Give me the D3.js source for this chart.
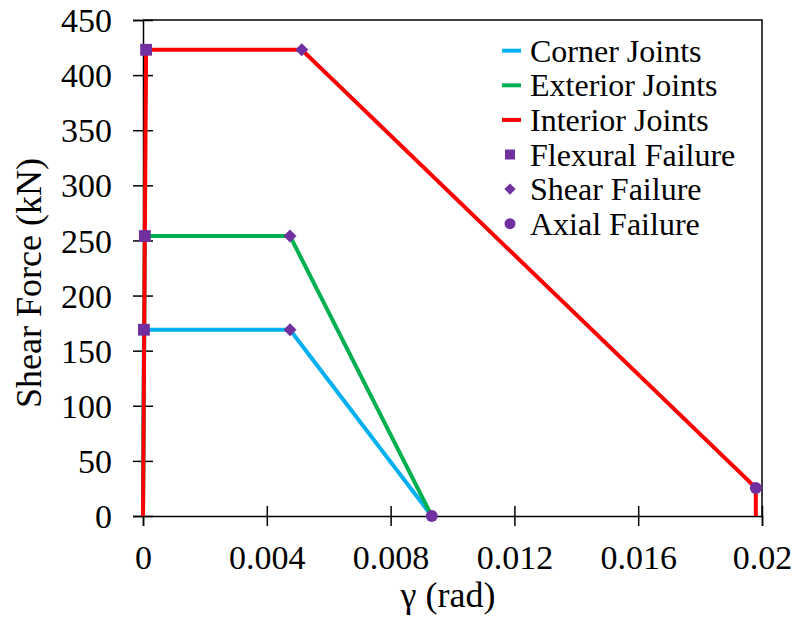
<!DOCTYPE html>
<html>
<head>
<meta charset="utf-8">
<script src="https://cdn.jsdelivr.net/npm/d3@7"></script>
</head>
<body style="margin:0;background:#fff">
<svg width="793" height="619"></svg>
<script>
// gamma (rad) and shear force (kN) for each joint type
const cornerGamma = [0, 0.00003, 0.00475, 0.00933];
const cornerForce = [0, 169, 169, 0];
const exteriorGamma = [0, 0.00006, 0.00475, 0.00933];
const exteriorForce = [0, 254, 254, 0];
const interiorGamma = [0, 0.0001, 0.00513, 0.0198, 0.0198];
const interiorForce = [0, 423, 423, 25.5, 0];

// failure points
const flexuralGamma = [0.00003, 0.00006, 0.0001];
const flexuralForce = [169, 254, 423];
const shearGamma = [0.00475, 0.00475, 0.00513];
const shearForce = [169, 254, 423];
const axialGamma = [0.00933, 0.0198];
const axialForce = [0, 25.5];

const xTicks = [0, 0.004, 0.008, 0.012, 0.016, 0.02];
const yTicks = [0, 50, 100, 150, 200, 250, 300, 350, 400, 450];

const svg = d3.select("svg");
const plotL = 143, plotR = 762, plotT = 20, plotB = 516;
const serif = "Liberation Serif";

const x = d3.scaleLinear().domain([0, 0.02]).range([plotL, plotR]);
const y = d3.scaleLinear().domain([0, 450]).range([plotB, plotT]);

const purple = "#7030A0";
const series = [
  { name: "Corner Joints", color: "#00B0F0", g: cornerGamma, f: cornerForce },
  { name: "Exterior Joints", color: "#00B050", g: exteriorGamma, f: exteriorForce },
  { name: "Interior Joints", color: "#FF0000", g: interiorGamma, f: interiorForce }
];

// plot frame (top and right)
svg.append("path")
  .attr("d", `M${plotL},${plotT}H${plotR}V${plotB}`)
  .attr("fill", "none").attr("stroke", "#000").attr("stroke-width", 1.5);

// axes, ticks crossing the line
const xAxis = svg.append("g").attr("transform", `translate(0,${plotB})`)
  .call(d3.axisBottom(x).tickValues(xTicks).tickSize(10).tickPadding(20)
    .tickFormat(d => d === 0 ? "0" : String(+d.toFixed(3))));
const yAxis = svg.append("g").attr("transform", `translate(${plotL},0)`)
  .call(d3.axisLeft(y).tickValues(yTicks).tickSize(10).tickPadding(20));

[xAxis, yAxis].forEach(a => {
  a.attr("font-family", serif).attr("font-size", 34);
  a.select(".domain").attr("stroke", "#000").attr("stroke-width", 1.5);
  a.selectAll(".tick line").attr("stroke", "#000").attr("stroke-width", 1.5);
  a.selectAll(".tick text").attr("font-family", serif).attr("font-size", 34).attr("fill", "#000");
});
xAxis.selectAll(".tick").append("line").attr("y2", -10).attr("stroke", "#000").attr("stroke-width", 1.5);
yAxis.selectAll(".tick").append("line").attr("x2", 10).attr("stroke", "#000").attr("stroke-width", 1.5);
xAxis.selectAll(".tick text").attr("dy", null).attr("y", 53);
yAxis.selectAll(".tick text").attr("x", -31).attr("dy", "0.34em");

// axis titles
svg.append("text").attr("x", 448).attr("y", 607)
  .attr("text-anchor", "middle").attr("font-family", serif).attr("font-size", 36).text("γ (rad)");
svg.append("text")
  .attr("transform", "translate(41,283) rotate(-90)")
  .attr("text-anchor", "middle").attr("font-family", serif).attr("font-size", 36).text("Shear Force (kN)");

// lines
const line = d3.line().x(d => x(d[0])).y(d => y(d[1]));
series.forEach(s => {
  svg.append("path")
    .datum(s.g.map((g, i) => [g, s.f[i]]))
    .attr("d", line)
    .attr("fill", "none").attr("stroke", s.color).attr("stroke-width", 4)
    .attr("stroke-linejoin", "miter");
});

// markers
const sym = (type, size) => d3.symbol().type(type).size(size)();
svg.selectAll(".flex").data(flexuralGamma).enter().append("path")
  .attr("transform", (d, i) => `translate(${x(d)},${y(flexuralForce[i])})`)
  .attr("d", sym(d3.symbolSquare, 140)).attr("fill", purple);
svg.selectAll(".shear").data(shearGamma).enter().append("path")
  .attr("transform", (d, i) => `translate(${x(d)},${y(shearForce[i])}) rotate(45)`)
  .attr("d", sym(d3.symbolSquare, 85)).attr("fill", purple);
svg.selectAll(".axial").data(axialGamma).enter().append("circle")
  .attr("cx", d => x(d)).attr("cy", (d, i) => y(axialForce[i]))
  .attr("r", 6).attr("fill", purple);

// legend
const legendItems = [
  { name: "Corner Joints", kind: "line", color: "#00B0F0" },
  { name: "Exterior Joints", kind: "line", color: "#00B050" },
  { name: "Interior Joints", kind: "line", color: "#FF0000" },
  { name: "Flexural Failure", kind: "square" },
  { name: "Shear Failure", kind: "diamond" },
  { name: "Axial Failure", kind: "circle" }
];
const lg = svg.append("g").attr("font-family", serif).attr("font-size", 32);
legendItems.forEach((d, i) => {
  const cy = 50.7 + i * 34.6;
  const row = lg.append("g").attr("transform", `translate(0,${cy})`);
  if (d.kind === "line") {
    row.append("line").attr("x1", 502).attr("x2", 521)
      .attr("stroke", d.color).attr("stroke-width", 4);
  } else if (d.kind === "square") {
    row.append("path").attr("transform", "translate(510,0)")
      .attr("d", sym(d3.symbolSquare, 100)).attr("fill", purple);
  } else if (d.kind === "diamond") {
    row.append("path").attr("transform", "translate(510,0) rotate(45)")
      .attr("d", sym(d3.symbolSquare, 64)).attr("fill", purple);
  } else {
    row.append("circle").attr("cx", 510).attr("r", 5.5).attr("fill", purple);
  }
  row.append("text").attr("x", 530).attr("y", 11)
    .attr("font-family", serif).attr("font-size", 32).attr("fill", "#000").text(d.name);
});
</script>
</body>
</html>
